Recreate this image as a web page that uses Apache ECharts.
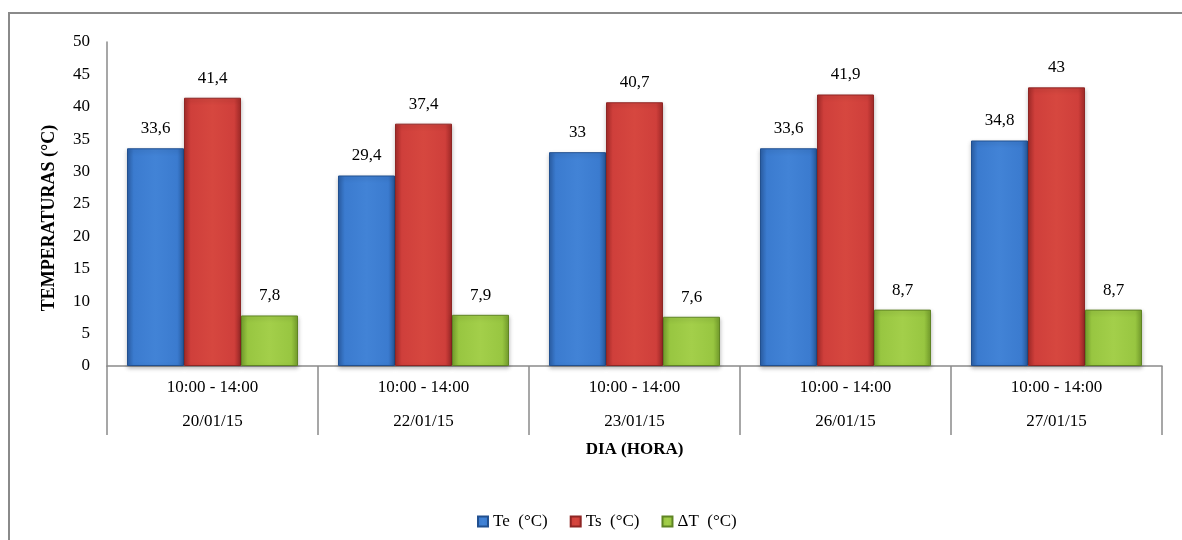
<!DOCTYPE html>
<html>
<head>
<meta charset="utf-8">
<script src="https://cdn.jsdelivr.net/npm/echarts@6/dist/echarts.min.js"></script>
<style>
  html, body { margin: 0; padding: 0; background: #ffffff; }
  #chart { width: 1182px; height: 540px; }
</style>
</head>
<body>
<div id="chart"></div>
<script>
// Measurement days and the sampling window
const days = ['20/01/15', '22/01/15', '23/01/15', '26/01/15', '27/01/15'];
const hours = ['10:00 - 14:00', '10:00 - 14:00', '10:00 - 14:00', '10:00 - 14:00', '10:00 - 14:00'];

// Temperatures (°C)
const te = [33.6, 29.4, 33, 33.6, 34.8];
const ts = [41.4, 37.4, 40.7, 41.9, 43];
const dt = [7.8, 7.9, 7.6, 8.7, 8.7];

const seriesNames = ['Te  (°C)', 'Ts  (°C)', '\u0394T  (°C)'];

const FONT = '"Liberation Serif", "DejaVu Serif", serif';

// Bevelled-looking fill: darker edges, brighter middle
function barFill(edge, mid, light) {
  return new echarts.graphic.LinearGradient(0, 0, 1, 0, [
    { offset: 0, color: edge },
    { offset: 0.12, color: mid },
    { offset: 0.5, color: light },
    { offset: 0.88, color: mid },
    { offset: 1, color: edge }
  ]);
}

const styles = [
  { fill: barFill('#2b5fa6', '#3b7bcf', '#4283d6'), border: '#22508f' },
  { fill: barFill('#a42b29', '#cf3f3b', '#d6473f'), border: '#8e2624' },
  { fill: barFill('#76a02d', '#98c641', '#a3cf4a'), border: '#5f8424' }
];

const fmt = p => String(p.value).replace('.', ',');

function makeSeries(name, data, st) {
  return {
    name: name,
    type: 'bar',
    data: data,
    barWidth: 57,
    barGap: '0%',
    itemStyle: {
      color: st.fill,
      borderColor: st.border,
      borderWidth: 1,
      shadowColor: 'rgba(0,0,0,0.25)',
      shadowBlur: 4,
      shadowOffsetY: 2
    },
    label: {
      show: true,
      position: 'top',
      distance: 11,
      formatter: fmt,
      fontFamily: FONT,
      fontSize: 17,
      color: '#000'
    }
  };
}

const chart = echarts.init(document.getElementById('chart'), null, { renderer: 'canvas' });

chart.setOption({
  animation: false,
  backgroundColor: '#ffffff',
  textStyle: { fontFamily: FONT },
  graphic: [{
    type: 'rect',
    shape: { x: 9, y: 13, width: 1300, height: 700 },
    style: { fill: 'none', stroke: '#8a8a8a', lineWidth: 2 },
    silent: true
  }],
  grid: { left: 107, right: 20, top: 42, bottom: 174 },
  legend: {
    left: 472,
    top: 508,
    itemWidth: 10,
    itemHeight: 10,
    itemGap: 22,
    icon: 'rect',
    textStyle: { fontFamily: FONT, fontSize: 17, color: '#000' },
    data: seriesNames
  },
  xAxis: {
    type: 'category',
    data: days,
    axisLine: { show: true, lineStyle: { color: '#8a8a8a', width: 1.5 } },
    axisTick: { show: true, length: 69, lineStyle: { color: '#8a8a8a', width: 1.5 } },
    axisLabel: {
      margin: 5,
      interval: 0,
      formatter: (v, i) => '{h|' + hours[i] + '}\n{d|' + v + '}',
      rich: {
        h: { fontFamily: FONT, fontSize: 17, lineHeight: 34, color: '#000' },
        d: { fontFamily: FONT, fontSize: 17, lineHeight: 34, color: '#000' }
      }
    },
    name: 'DIA (HORA)',
    nameLocation: 'middle',
    nameGap: 75,
    nameTextStyle: { fontFamily: FONT, fontSize: 17, fontWeight: 'bold', color: '#000' }
  },
  yAxis: {
    type: 'value',
    min: 0,
    max: 50,
    interval: 5,
    splitLine: { show: false },
    axisLine: { show: true, lineStyle: { color: '#8a8a8a', width: 1.5 } },
    axisTick: { show: false },
    axisLabel: { margin: 17, fontFamily: FONT, fontSize: 17, color: '#000' },
    name: 'TEMPERATURAS (°C)',
    nameLocation: 'middle',
    nameGap: 49,
    nameRotate: 90,
    nameTextStyle: {
      fontFamily: FONT, fontSize: 18, fontWeight: 'bold', color: '#000',
      padding: [0, 28, 0, 0]
    }
  },
  series: [
    makeSeries(seriesNames[0], te, styles[0]),
    makeSeries(seriesNames[1], ts, styles[1]),
    makeSeries(seriesNames[2], dt, styles[2])
  ]
});
</script>
</body>
</html>
